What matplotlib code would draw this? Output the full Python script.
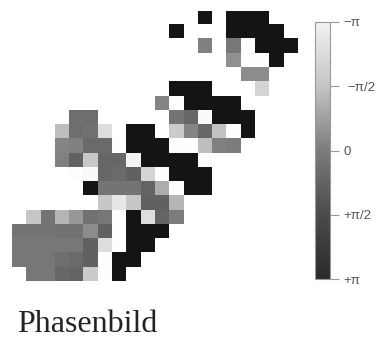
import numpy as np
import matplotlib
matplotlib.use("Agg")
import matplotlib.pyplot as plt
from matplotlib.colors import LinearSegmentedColormap
from matplotlib.cm import ScalarMappable
from matplotlib.colors import Normalize
from matplotlib.transforms import Affine2D

# phase per cell, nan = no data
n = np.nan
phase_rows = [
    [n, n, n, n, n, n, n, n, n, n, n, n, n, 3.1, n, 3.1, 3.1, 3.1, n, n],
    [n, n, n, n, n, n, n, n, n, n, n, 3.1, n, n, n, 3.1, 3.1, 3.1, 3.1, n],
    [n, n, n, n, n, n, n, n, n, n, n, n, n, -0.2, n, 0.0, -3.1, 3.1, 3.1, 3.1],
    [n, n, n, n, n, n, n, n, n, n, n, n, n, n, n, -0.6, -3.1, -3.1, 3.1, n],
    [n, n, n, n, n, n, n, n, n, n, n, n, n, n, n, n, -0.5, -0.5, n, n],
    [n, n, n, n, n, n, n, n, n, n, n, 3.1, 3.1, 3.1, n, n, n, -2.2, n, n],
    [n, n, n, n, n, n, n, n, n, n, -0.3, -3.1, 3.1, 3.1, 3.1, 3.1, n, n, n, n],
    [n, n, n, n, 0.3, 0.3, n, n, n, n, n, 0.1, 0.5, -3.0, 3.1, 3.1, 3.1, n, n, n],
    [n, n, n, -1.7, 0.3, 0.2, -2.4, n, 3.1, 3.1, n, -2.0, -0.3, 0.5, -1.8, -3.1, 3.1, n, n, n],
    [n, n, n, -0.3, -0.2, 0.4, 0.4, -3.1, 3.1, 3.1, 3.1, -3.1, -3.1, -1.7, -0.2, -0.1, n, n, n, n],
    [n, n, n, -0.2, 0.7, -1.9, 0.5, 0.5, -2.9, 3.1, 3.1, 3.1, 3.1, -3.1, n, n, n, n, n, n],
    [n, n, n, n, -3.1, -3.0, 0.5, 0.4, 0.7, -2.2, -3.1, 3.1, 3.1, 3.1, n, n, n, n, n, n],
    [n, n, n, n, n, 3.1, 0.1, 0.1, 0.1, 0.6, -1.3, -3.1, 3.1, 3.1, n, n, n, n, n, n],
    [n, n, n, n, n, n, -1.9, -2.6, -1.9, 0.7, 0.7, -1.5, n, n, n, n, n, n, n, n],
    [n, -1.9, 0.1, -1.5, -0.8, 0.2, 0.0, -3.1, 3.1, -2.4, 0.6, -0.1, n, n, n, n, n, n, n, n],
    [0.1, 0.1, 0.1, 0.2, 0.2, -0.5, 0.7, -3.1, 3.1, 3.1, 3.1, n, n, n, n, n, n, n, n, n],
    [0.0, 0.0, 0.0, 0.0, 0.0, 0.7, -2.4, -3.1, 3.1, 3.1, n, n, n, n, n, n, n, n, n, n],
    [0.0, 0.0, 0.0, 0.3, 0.4, 0.7, -3.1, 3.1, 3.1, n, n, n, n, n, n, n, n, n, n, n],
    [n, 0.0, 0.0, 0.5, 0.6, -2.0, -3.1, 3.1, n, n, n, n, n, n, n, n, n, n, n, n],
]
tick_values = [-np.pi, -np.pi / 2, 0, np.pi / 2, np.pi]
tick_labels = ['\u2212\u03c0', '\u2212\u03c0/2', '0', '+\u03c0/2', '+\u03c0']
caption = 'Phasenbild'

W, H = 377, 340
fig = plt.figure(figsize=(W / 100, H / 100), dpi=100)

cmap = LinearSegmentedColormap.from_list(
    'phase', [(0, '#ffffff'), (0.25, '#b8b8b8'), (0.5, '#787878'), (0.75, '#454545'), (1, '#141414')])
bar_cmap = LinearSegmentedColormap.from_list(
    'phase_bar', [(0, '#f2f2f2'), (0.25, '#c4c4c4'), (0.5, '#7c7c7c'), (0.75, '#4a4a4a'), (1, '#2a2a2a')])
norm = Normalize(-np.pi, np.pi)

# phase map
ax = fig.add_axes([12.3 / W, 1 - 281.5 / H, 285.4 / W, 270.8 / H])
ax.imshow(np.array(phase_rows), cmap=cmap, norm=norm, aspect='auto', interpolation='nearest')
ax.axis('off')

# colour bar, -pi on top
cax = fig.add_axes([315 / W, 1 - 279 / H, 15 / W, 257 / H])
cb = fig.colorbar(ScalarMappable(norm=norm, cmap=bar_cmap), cax=cax)
cb.ax.invert_yaxis()
cb.set_ticks(tick_values)
cb.set_ticklabels(tick_labels)
cb.ax.tick_params(length=6.5, width=0.8, color='#999999', labelcolor='#555555', labelsize=9.5, pad=3)
for label in cb.ax.get_yticklabels():
    label.set_family('Liberation Sans')
# the -pi/2 label sits a bit further right
lab = cb.ax.get_yticklabels()[1]
lab.set_transform(lab.get_transform() + Affine2D().translate(4, 0))
cb.outline.set_edgecolor('#999999')
cb.outline.set_linewidth(0.8)

fig.text(17 / W, 1 - 332 / H, caption, family='Liberation Serif', fontsize=23, color='#222222')

fig.savefig('out.png', dpi=100)
